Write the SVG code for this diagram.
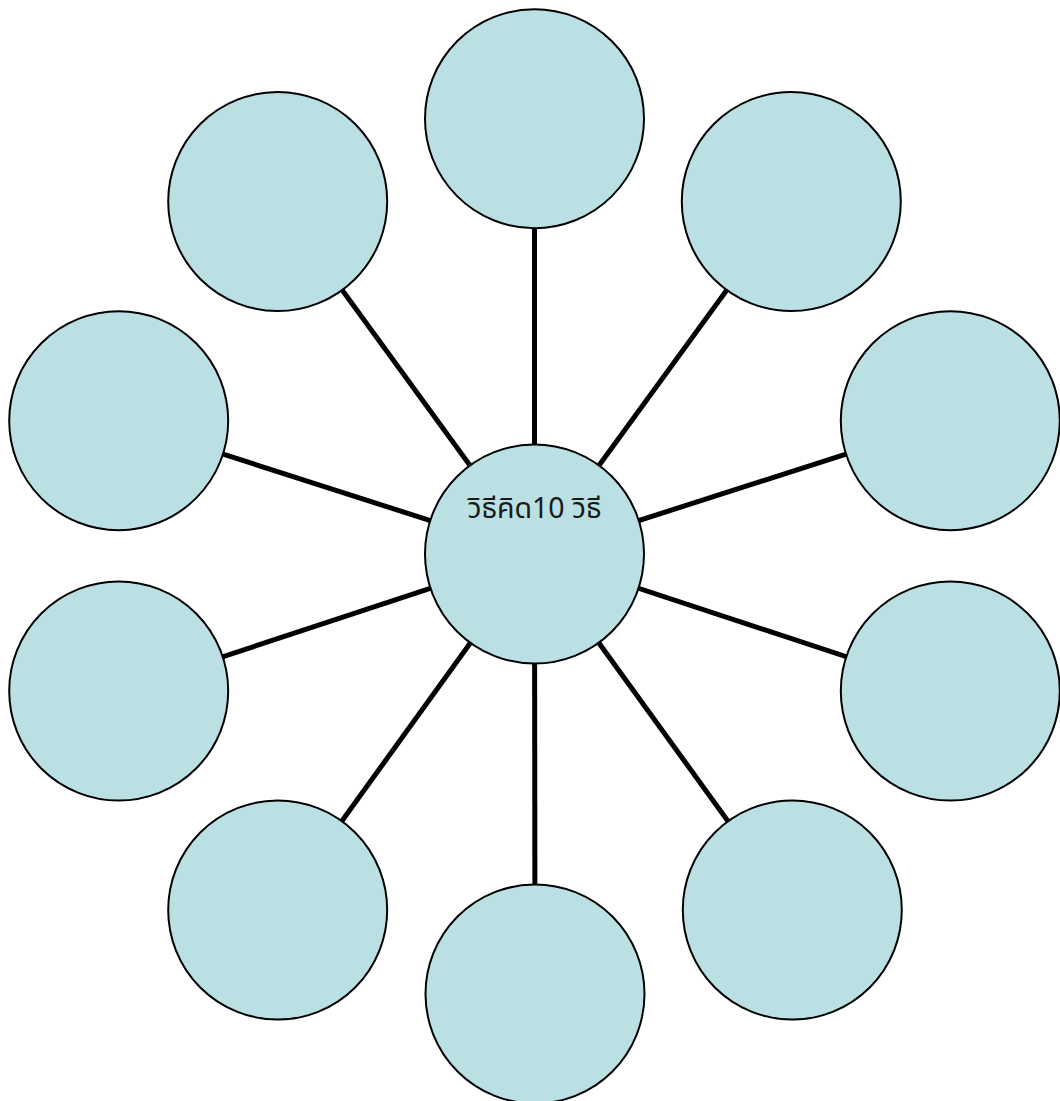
<svg xmlns="http://www.w3.org/2000/svg" width="1060" height="1101" viewBox="0 0 1060 1101">
<style>
.node circle{fill:#BBE0E3;stroke:#000;stroke-width:2}
.edges line{stroke:#000;stroke-width:5}
.label{font-family:"Noto Sans Thai","Noto Sans","DejaVu Sans",sans-serif;font-size:28.5px;fill:#1a1a1a;text-anchor:middle}
</style>
<rect width="1060" height="1101" fill="#fff"/>
<g id="connectors" class="edges">
<line x1="534.5" y1="554" x2="534.5" y2="118.7"/>
<line x1="534.5" y1="554" x2="277.7" y2="201.5"/>
<line x1="534.5" y1="554" x2="791.3" y2="201.5"/>
<line x1="534.5" y1="554" x2="118.7" y2="420.7"/>
<line x1="534.5" y1="554" x2="950.3" y2="420.7"/>
<line x1="534.5" y1="554" x2="118.7" y2="691"/>
<line x1="534.5" y1="554" x2="950.3" y2="691"/>
<line x1="534.5" y1="554" x2="277.7" y2="910"/>
<line x1="534.5" y1="554" x2="792.3" y2="910"/>
<line x1="534.5" y1="554" x2="535" y2="994"/>
</g>
<g id="node-top" class="node"><circle cx="534.5" cy="118.7" r="109.5"/></g>
<g id="node-top-left" class="node"><circle cx="277.7" cy="201.5" r="109.5"/></g>
<g id="node-top-right" class="node"><circle cx="791.3" cy="201.5" r="109.5"/></g>
<g id="node-left-upper" class="node"><circle cx="118.7" cy="420.7" r="109.5"/></g>
<g id="node-right-upper" class="node"><circle cx="950.3" cy="420.7" r="109.5"/></g>
<g id="node-left-lower" class="node"><circle cx="118.7" cy="691" r="109.5"/></g>
<g id="node-right-lower" class="node"><circle cx="950.3" cy="691" r="109.5"/></g>
<g id="node-bottom-left" class="node"><circle cx="277.7" cy="910" r="109.5"/></g>
<g id="node-bottom-right" class="node"><circle cx="792.3" cy="910" r="109.5"/></g>
<g id="node-bottom" class="node"><circle cx="535" cy="994" r="109.5"/></g>
<g id="node-center" class="node"><circle cx="534.5" cy="554" r="109.5"/>
<text class="label" x="534.5" y="518">วิธีคิด10 วิธี</text></g>
</svg>
